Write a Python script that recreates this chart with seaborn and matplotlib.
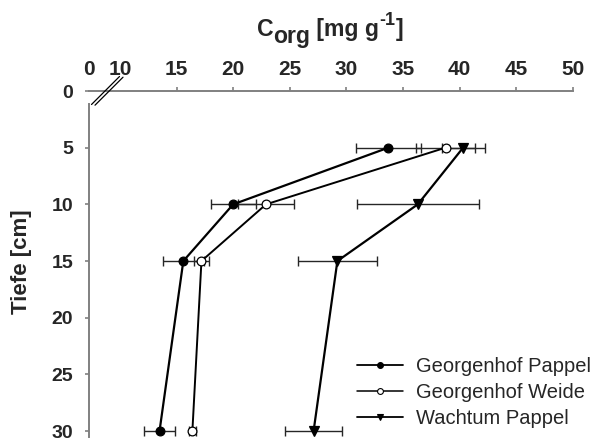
import numpy as np
import pandas as pd
import seaborn as sns
import matplotlib
matplotlib.use("Agg")
import matplotlib.pyplot as plt
from matplotlib.lines import Line2D

# ---- data ----
depth = [5, 10, 15, 30]
series_names = ["Georgenhof Pappel", "Georgenhof Weide", "Wachtum Pappel"]
gh_pappel = [33.7, 20.0, 15.6, 13.5]
gh_pappel_err = [2.85, 2.0, 1.8, 1.4]
gh_weide = [38.75, 22.9, 17.2, 16.4]
gh_weide_err = [2.6, 2.5, 0.7, 0.3]
wa_pappel = [40.3, 36.3, 29.2, 27.1]
wa_pappel_err = [1.9, 5.4, 3.5, 2.5]
x_ticks = [7.3, 10, 15, 20, 25, 30, 35, 40, 45, 50]
x_ticklabels = ["0", "10", "15", "20", "25", "30", "35", "40", "45", "50"]
y_ticks = [0, 5, 10, 15, 20, 25, 30]
title_pieces = [("C", 0), ("org", 1), (" [mg g", 0), ("-1", 2), ("]", 0)]  # 0 normal, 1 sub, 2 sup
ylabel_text = "Tiefe [cm]"

sns.set_style("white")
plt.rcParams["font.family"] = ["Liberation Sans", "DejaVu Sans"]

W, H = 597, 441
fig = plt.figure(figsize=(W / 100, H / 100), dpi=100)
ax_left, ax_right, ax_top, ax_bot = 89.3, 573.0, 91.0, 436.7
ax = fig.add_axes([ax_left / W, 1 - ax_bot / H, (ax_right - ax_left) / W, (ax_bot - ax_top) / H])

df = pd.DataFrame({
    "depth": depth * 3,
    "value": gh_pappel + gh_weide + wa_pappel,
    "err": gh_pappel_err + gh_weide_err + wa_pappel_err,
    "series": sum([[n] * len(depth) for n in series_names], []),
})

styles = {
    "Georgenhof Pappel": dict(marker="o", mfc="black", ms=6.3, lw=1.6),
    "Georgenhof Weide": dict(marker="o", mfc="white", ms=6.3, lw=1.4),
    "Wachtum Pappel": dict(marker="v", mfc="black", ms=6.8, lw=1.6),
}

# error bars first (underneath)
for name in series_names:
    sub = df[df.series == name]
    ax.errorbar(sub["value"], sub["depth"], xerr=sub["err"], fmt="none",
                ecolor="#262626", elinewidth=1.0, capsize=3.4, capthick=1.0, zorder=2)

for name in series_names:
    sub = df[df.series == name]
    st = styles[name]
    sns.lineplot(data=sub, x="value", y="depth", sort=False, orient="y", ax=ax,
                 color="black", linewidth=st["lw"], marker=st["marker"],
                 markersize=st["ms"], markerfacecolor=st["mfc"],
                 markeredgecolor="black", markeredgewidth=0.9, zorder=3,
                 legend=False)

ax.set_xlim(7.3, 50)
ax.set_ylim(30.5, 0)

ax.xaxis.tick_top()
ax.set_xticks(x_ticks)
ax.set_xticklabels(x_ticklabels)
ax.set_yticks(y_ticks)
ax.set_yticklabels([str(v) for v in y_ticks])
ax.set_xlabel("")

spine_col = "#808080"
for s in ["right", "bottom"]:
    ax.spines[s].set_visible(False)
for s in ["top", "left"]:
    ax.spines[s].set_color(spine_col)
    ax.spines[s].set_linewidth(1.4)
ax.spines["left"].set_bounds(1.15, 30.5)

ax.tick_params(axis="x", which="major", top=True, bottom=False, direction="out",
               length=3.2, width=1.2, color=spine_col, pad=5.5, labelsize=15)
ax.tick_params(axis="y", which="major", left=True, direction="out",
               length=3.2, width=1.2, color=spine_col, pad=8.5, labelsize=14)
for lab in ax.get_xticklabels() + ax.get_yticklabels():
    lab.set_fontweight("bold")
xt = ax.xaxis.get_major_ticks()
for i in (0, 1):
    xt[i].tick2line.set_visible(False)

ax.set_ylabel(ylabel_text, fontsize=16, fontweight="bold")
ax.yaxis.set_label_coords((32 - ax_left) / (ax_right - ax_left), (ax_bot - 262.0) / (ax_bot - ax_top))
ax.grid(False)

# ---- top axis title built from pieces (full-size subscript, hyphen superscript) ----
renderer = fig.canvas.get_renderer()
t_left, t_right, t_base = 256.7, 403.0, 36.0


def build_title(size, draw):
    x = t_left
    arts = []
    for s, kind in title_pieces:
        fs = size if kind != 2 else size * 0.78
        dy = {0: 0.0, 1: -0.40 * size, 2: 0.66 * size}[kind]
        t = fig.text(x / W, 1 - (t_base - dy) / H, s, fontsize=fs, fontweight="bold",
                     ha="left", va="baseline")
        x += t.get_window_extent(renderer).width
        arts.append(t)
    if not draw:
        for a in arts:
            a.remove()
    return x - t_left


w15 = build_title(15, False)
build_title(15 * (t_right - t_left) / w15, True)


# axis break slashes (figure pixel coordinates)
def fp(x, y):
    return (x / W, 1 - y / H)


for dx in (0.0, 3.5):
    (x0, y0), (x1, y1) = fp(91.5 + dx, 104.5 + dx * 0.2), fp(119.5 + dx, 76.5 + dx * 0.2)
    fig.add_artist(Line2D([x0, x1], [y0, y1], transform=fig.transFigure,
                          color="black", lw=0.9))

handles = [
    Line2D([], [], color="black", lw=1.3, marker="o", ms=4.2, mfc="black", mec="black", mew=0.8),
    Line2D([], [], color="black", lw=1.1, marker="o", ms=4.2, mfc="white", mec="black", mew=0.8),
    Line2D([], [], color="black", lw=1.3, marker="v", ms=4.6, mfc="black", mec="black", mew=0.8),
]
fig.legend(handles, series_names, loc="upper left", bbox_to_anchor=fp(356.7, 357.0),
           frameon=False, fontsize=14.5, handlelength=2.32, handletextpad=0.63,
           labelspacing=0.36, borderpad=0, borderaxespad=0)

fig.savefig("out.png", dpi=100)
